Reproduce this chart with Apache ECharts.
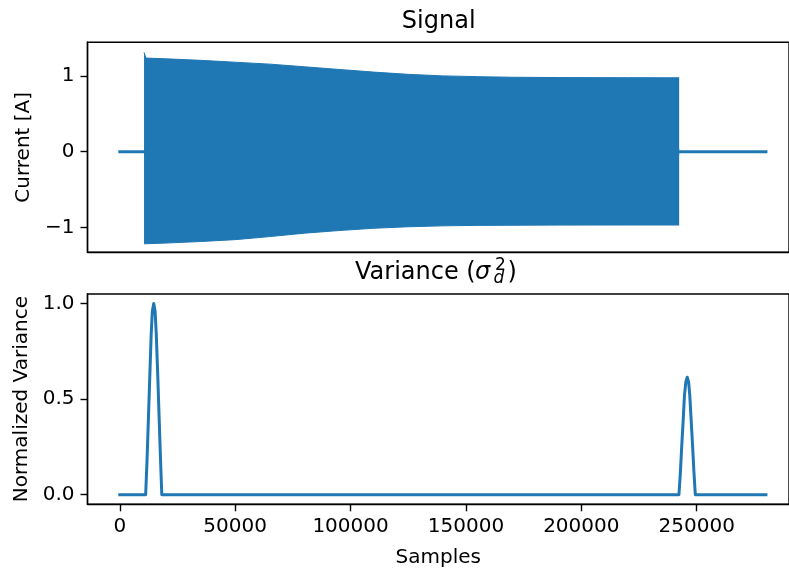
<!DOCTYPE html>
<html>
<head>
<meta charset="utf-8">
<script src="https://cdn.jsdelivr.net/npm/echarts@6/dist/echarts.min.js"></script>
<style>
  html, body { margin: 0; padding: 0; background: #fff; }
  #chart { width: 789px; height: 572px; }
</style>
</head>
<body>
<div id="chart"></div>
<script>
// ---- Data ----
// Signal: quiet (zero) segments before and after the burst
const preSamples  = [0, 10500];
const preValues   = [0, 0];
const postSamples = [242400, 280000];
const postValues  = [0, 0];

// Signal: envelope of the dense oscillating burst
const envSamples = [10500, 11300, 20000, 35000, 50000, 65000, 80000, 95000, 110000, 125000, 140000, 155000, 170000, 190000, 220000, 242400];
const envUpper   = [1.31, 1.235, 1.225, 1.205, 1.18, 1.155, 1.12, 1.085, 1.05, 1.02, 1.0, 0.99, 0.982, 0.978, 0.976, 0.975];
const envLower   = [-1.215, -1.21, -1.205, -1.185, -1.16, -1.12, -1.075, -1.04, -1.01, -0.99, -0.978, -0.972, -0.97, -0.968, -0.967, -0.967];

// Normalized variance
const varSamples = [0, 11200, 11800, 12400, 13000, 13600, 14100, 14700, 15300, 15800, 16400, 17000, 17600, 18200,
                    242300, 242900, 243500, 244100, 244700, 245300, 245900, 246500, 247000, 247600, 248200, 248800, 249400, 280000];
const varValues  = [0, 0, 0.18, 0.40, 0.62, 0.84, 0.96, 1.0, 0.96, 0.84, 0.64, 0.42, 0.20, 0,
                    0, 0.11, 0.25, 0.38, 0.52, 0.59, 0.615, 0.59, 0.52, 0.39, 0.26, 0.12, 0, 0];

// Tick values
const xTicks       = [0, 50000, 100000, 150000, 200000, 250000];
const yTicksTop    = [-1, 0, 1];
const yTicksBottom = [0, 0.5, 1.0];

// ---- Chart ----
const C0 = '#1f77b4';
const FONT = '"DejaVu Sans", sans-serif';
const zip = (xs, ys) => xs.map((x, i) => [x, ys[i]]);

const gridL = 87.5, gridW = 702.5;
const axisLineStyle = { color: '#000', width: 1.4 };

const chart = echarts.init(document.getElementById('chart'), null, { renderer: 'canvas' });

const option = {
  animation: false,
  backgroundColor: '#fff',
  grid: [
    { left: gridL, top: 42.3, width: gridW, height: 210, show: true, borderColor: '#000', borderWidth: 1.4, containLabel: false },
    { left: gridL, top: 294, width: gridW, height: 210.3, show: true, borderColor: '#000', borderWidth: 1.4, containLabel: false }
  ],
  xAxis: [
    {
      type: 'value', gridIndex: 0, min: -14000, max: 290000,
      axisLine: { show: true, onZero: false, lineStyle: axisLineStyle },
      axisTick: { show: false }, axisLabel: { show: false }, splitLine: { show: false }
    },
    {
      type: 'value', gridIndex: 1, min: -14000, max: 290000,
      name: 'Samples', nameLocation: 'middle', nameGap: 43,
      nameTextStyle: { fontFamily: FONT, fontSize: 20, color: '#000' },
      axisLine: { show: true, onZero: false, lineStyle: axisLineStyle },
      axisTick: { show: true, inside: false, length: 7, customValues: xTicks, lineStyle: axisLineStyle },
      axisLabel: { show: true, customValues: xTicks, margin: 12, fontFamily: FONT, fontSize: 20, color: '#000',
                   formatter: v => String(v) },
      splitLine: { show: false }
    }
  ],
  yAxis: [
    {
      type: 'value', gridIndex: 0, min: -1.327, max: 1.443,
      name: 'Current [A]', nameLocation: 'middle', nameGap: 51,
      nameTextStyle: { fontFamily: FONT, fontSize: 20, color: '#000' },
      axisLine: { show: true, onZero: false, lineStyle: axisLineStyle },
      axisTick: { show: true, inside: false, length: 7, customValues: yTicksTop, lineStyle: axisLineStyle },
      axisLabel: { show: true, customValues: yTicksTop, margin: 13, fontFamily: FONT, fontSize: 20, color: '#000',
                   formatter: v => (v < 0 ? '\u2212' + Math.abs(v) : String(v)) },
      splitLine: { show: false }
    },
    {
      type: 'value', gridIndex: 1, min: -0.05, max: 1.05,
      name: 'Normalized Variance', nameLocation: 'middle', nameGap: 55,
      nameTextStyle: { fontFamily: FONT, fontSize: 20, color: '#000' },
      axisLine: { show: true, onZero: false, lineStyle: axisLineStyle },
      axisTick: { show: true, inside: false, length: 7, customValues: yTicksBottom, lineStyle: axisLineStyle },
      axisLabel: { show: true, customValues: yTicksBottom, margin: 13, fontFamily: FONT, fontSize: 20, color: '#000',
                   formatter: v => v.toFixed(1) },
      splitLine: { show: false }
    }
  ],
  graphic: [
    { type: 'text', x: 438.7, y: 22, style: { text: 'Signal', font: '24px ' + FONT, fill: '#000', align: 'center', verticalAlign: 'middle' } },
    { type: 'text', x: 355, y: 273, style: { text: 'Variance (', font: '24px ' + FONT, fill: '#000', align: 'left', verticalAlign: 'middle' } },
    { type: 'text', x: 475, y: 273, style: { text: '\u03c3', font: 'italic 24px ' + FONT, fill: '#000', align: 'left', verticalAlign: 'middle' } },
    { type: 'text', x: 493.5, y: 279, style: { text: 'd', font: 'italic 17px ' + FONT, fill: '#000', align: 'left', verticalAlign: 'middle' } },
    { type: 'text', x: 495, y: 265.5, style: { text: '2', font: '17px ' + FONT, fill: '#000', align: 'left', verticalAlign: 'middle' } },
    { type: 'text', x: 507.5, y: 273, style: { text: ')', font: '24px ' + FONT, fill: '#000', align: 'left', verticalAlign: 'middle' } }
  ],
  series: [
    {
      type: 'line', xAxisIndex: 0, yAxisIndex: 0, data: zip(envSamples, envUpper),
      showSymbol: false, symbol: 'none', lineStyle: { color: C0, width: 1 },
      areaStyle: { color: C0, opacity: 1, origin: -0.05 }, z: 2
    },
    {
      type: 'line', xAxisIndex: 0, yAxisIndex: 0, data: zip(envSamples, envLower),
      showSymbol: false, symbol: 'none', lineStyle: { color: C0, width: 1 },
      areaStyle: { color: C0, opacity: 1, origin: 0.05 }, z: 2
    },
    {
      type: 'line', xAxisIndex: 0, yAxisIndex: 0, data: zip(preSamples, preValues),
      showSymbol: false, symbol: 'none', lineStyle: { color: C0, width: 3, cap: 'square' }, z: 3
    },
    {
      type: 'line', xAxisIndex: 0, yAxisIndex: 0, data: zip(postSamples, postValues),
      showSymbol: false, symbol: 'none', lineStyle: { color: C0, width: 3, cap: 'square' }, z: 3
    },
    {
      type: 'line', xAxisIndex: 1, yAxisIndex: 1, data: zip(varSamples, varValues),
      showSymbol: false, symbol: 'none', lineStyle: { color: C0, width: 3, cap: 'square', join: 'round' }, z: 3
    }
  ]
};

chart.setOption(option);
</script>
</body>
</html>
